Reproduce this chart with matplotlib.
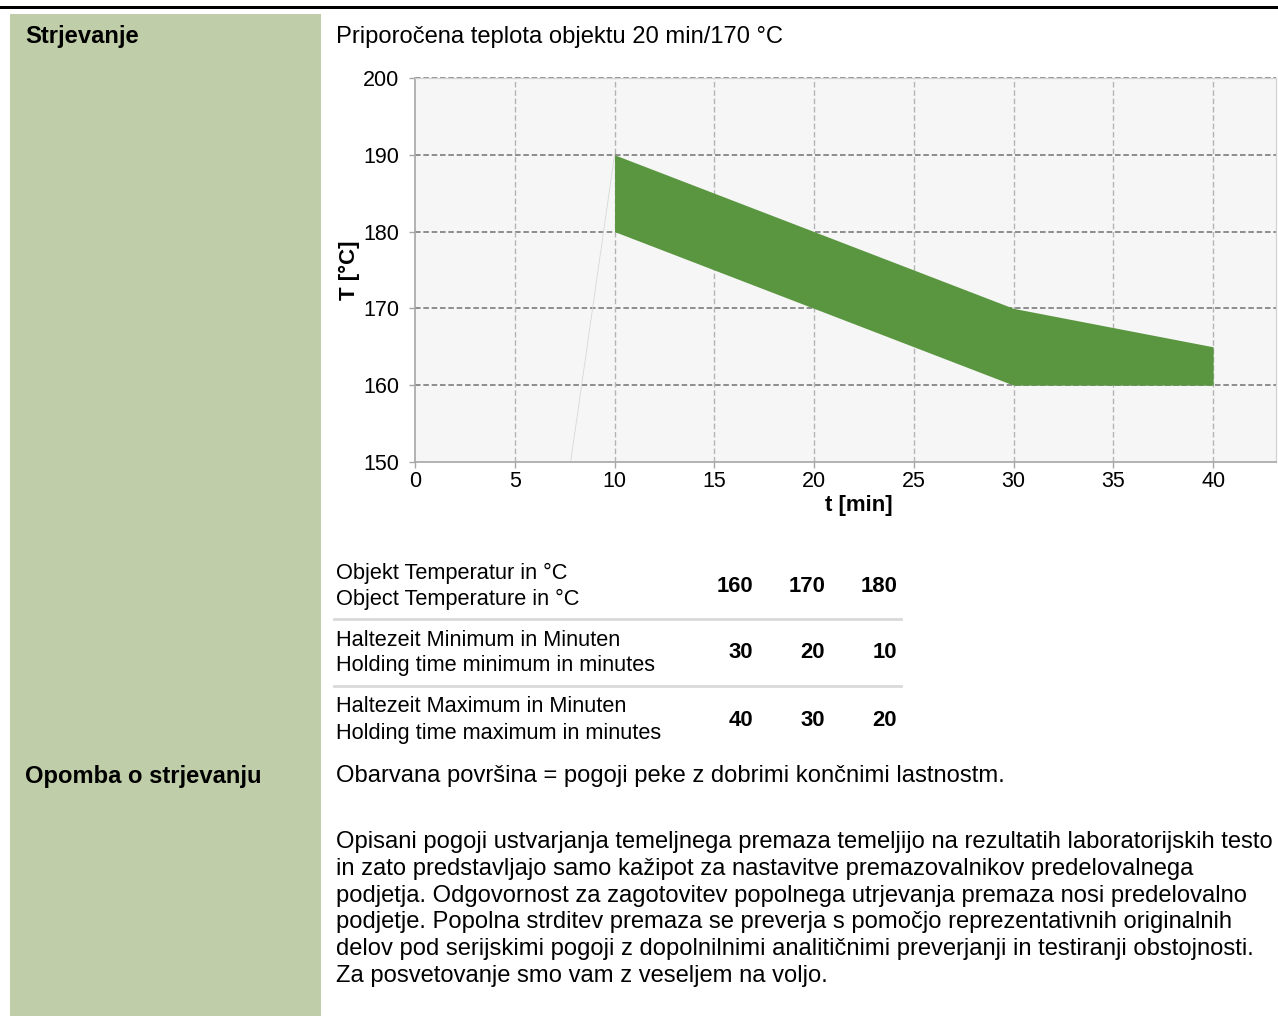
import matplotlib
matplotlib.use("Agg")
import matplotlib.pyplot as plt
from matplotlib.patches import Rectangle
from matplotlib.lines import Line2D

plt.rcParams['font.family'] = ['Liberation Sans', 'DejaVu Sans']
plt.rcParams['lines.scale_dashes'] = False

# podatki
t_band = [10, 20, 30, 40]
T_upper = [190, 180, 170, 165]
T_lower = [180, 170, 160, 160]
ramp_t = [7.8, 10]
ramp_T = [150, 190]

x_ticks = [0, 5, 10, 15, 20, 25, 30, 35, 40]
y_ticks = [150, 160, 170, 180, 190, 200]

row_labels = [
    ["Objekt Temperatur in °C", "Object Temperature in °C"],
    ["Haltezeit Minimum in Minuten", "Holding time minimum in minutes"],
    ["Haltezeit Maximum in Minuten", "Holding time maximum in minutes"],
]
row_values = [
    ["160", "170", "180"],
    ["30", "20", "10"],
    ["40", "30", "20"],
]

title_left = "Strjevanje"
title_right = "Priporočena teplota objektu 20 min/170 °C"
note_left = "Opomba o strjevanju"
note_first = "Obarvana površina = pogoji peke z dobrimi končnimi lastnostm."
note_lines = [
    "Opisani pogoji ustvarjanja temeljnega premaza temeljijo na rezultatih laboratorijskih testo",
    "in zato predstavljajo samo kažipot za nastavitve premazovalnikov predelovalnega",
    "podjetja. Odgovornost za zagotovitev popolnega utrjevanja premaza nosi predelovalno",
    "podjetje. Popolna strditev premaza se preverja s pomočjo reprezentativnih originalnih",
    "delov pod serijskimi pogoji z dopolnilnimi analitičnimi preverjanji in testiranji obstojnosti.",
    "Za posvetovanje smo vam z veseljem na voljo.",
]

W, H = 1278, 1016
fig = plt.figure(figsize=(W / 100, H / 100), dpi=100)
fig.patch.set_facecolor('white')

def fx(px):
    return px / W

def fy(py):
    return 1 - py / H

# ozadje: crta na vrhu in zeleni stolpec
fig.patches.append(Rectangle((0, fy(9)), 1, 3 / H, transform=fig.transFigure,
                             facecolor='black', edgecolor='none'))
fig.patches.append(Rectangle((fx(10), 0), fx(321) - fx(10), fy(14), transform=fig.transFigure,
                             facecolor='#bfcda8', edgecolor='none'))

fs = 17.1
fs2 = 15.7
fig.text(fx(25), fy(37), title_left, fontsize=fs, fontweight='bold', va='center', ha='left')
fig.text(fx(336), fy(37), title_right, fontsize=fs, va='center', ha='left')

# graf
ax = fig.add_axes([fx(415), fy(462), fx(1276) - fx(415), fy(78) - fy(462)])
ax.set_facecolor('#f7f6f7')
ax.fill_between(t_band, T_lower, T_upper, color='#5a9640', linewidth=0, zorder=3)
ax.plot(ramp_t, ramp_T, color='#d8d8d8', lw=0.6, zorder=2)
ax.set_xlim(0, 43.15)
ax.set_ylim(150, 200)
ax.set_xticks(x_ticks)
ax.set_yticks(y_ticks)
for y in y_ticks[1:]:
    ax.axhline(y, color='#8e8e8e', lw=1.4, ls=(0, (4, 2)), zorder=1, clip_on=False)
for x in x_ticks[1:]:
    ax.axvline(x, color='#b4b4b4', lw=1.0, ls=(0, (4, 2)), zorder=1)
for s in ['left', 'bottom']:
    ax.spines[s].set_color('#a6a6a6')
    ax.spines[s].set_linewidth(1.2)
for s in ['top', 'right']:
    ax.spines[s].set_color('#d2d2d2')
    ax.spines[s].set_linewidth(0.9)
ax.tick_params(axis='both', colors='#a6a6a6', labelcolor='black', labelsize=15.5,
               length=4.5, width=1.0, direction='out')
ax.tick_params(axis='x', pad=2)
ax.tick_params(axis='y', pad=7)
ax.set_xlabel('t [min]', fontsize=16, fontweight='bold')
ax.set_ylabel('T [°C]', fontsize=16, fontweight='bold')
ax.yaxis.set_label_coords(-0.064, 0.5)
ax.xaxis.set_label_coords(0.516, -0.085)

# tabela
row_y = [586, 653, 720]
num_x = [753, 825, 897]
for i in range(len(row_labels)):
    yc = row_y[i]
    fig.text(fx(336), fy(yc - 13), row_labels[i][0], fontsize=fs2, va='center', ha='left')
    fig.text(fx(336), fy(yc + 13), row_labels[i][1], fontsize=fs2, va='center', ha='left')
    for j in range(len(row_values[i])):
        fig.text(fx(num_x[j]), fy(yc), row_values[i][j], fontsize=15.9, fontweight='bold',
                 va='center', ha='right')
for yl in [619, 686]:
    fig.lines.append(Line2D([fx(334), fx(901)], [fy(yl), fy(yl)], transform=fig.transFigure,
                            color='#d9d9d9', lw=2))

# opomba
fig.text(fx(25), fy(776), note_left, fontsize=fs, fontweight='bold', va='center', ha='left')
fig.text(fx(336), fy(776), note_first, fontsize=fs, va='center', ha='left')
for k, line in enumerate(note_lines):
    fig.text(fx(336), fy(842 + k * 26.8), line, fontsize=fs, va='center', ha='left')

plt.savefig('out.png', dpi=100)
plt.close()
